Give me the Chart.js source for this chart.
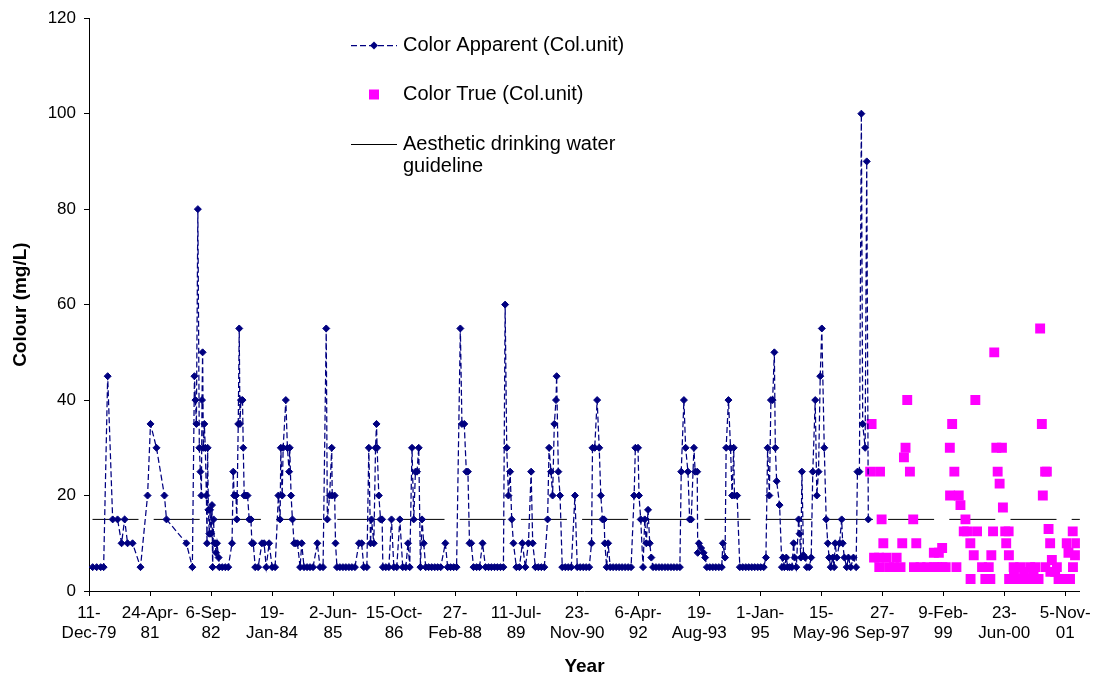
<!DOCTYPE html>
<html>
<head>
<meta charset="utf-8">
<script src="https://cdn.jsdelivr.net/npm/chart.js@4.4.0/dist/chart.umd.min.js"></script>
<style>
  html, body { margin: 0; padding: 0; background: #fff; }
</style>
</head>
<body>
<canvas id="colourChart" width="1098" height="681"></canvas>
<script>
// x values are days since 11-Dec-1979 (first axis tick)
const tickDays = [0, 500, 1000, 1500, 2000, 2500, 3000, 3500, 4000, 4500, 5000, 5500, 6000, 6500, 7000, 7500, 8000];
const tickLabels = [
    ['11-', 'Dec-79'], ['24-Apr-', '81'], ['6-Sep-', '82'], ['19-', 'Jan-84'], ['2-Jun-', '85'],
    ['15-Oct-', '86'], ['27-', 'Feb-88'], ['11-Jul-', '89'], ['23-', 'Nov-90'], ['6-Apr-', '92'],
    ['19-', 'Aug-93'], ['1-Jan-', '95'], ['15-', 'May-96'], ['27-', 'Sep-97'], ['9-Feb-', '99'],
    ['23-', 'Jun-00'], ['5-Nov-', '01']
];
const axisEndDay = 8120;

// Color Apparent (Col.unit)
const apparentDays = [
    30, 63, 96, 120, 153, 194, 234, 267, 292, 316, 357, 422, 480, 504, 553, 618, 635, 798, 847,
    864, 872, 880, 892, 904, 913, 921, 926, 931, 937, 945, 953, 962, 967, 972, 978, 986, 992, 1000, 1008, 1013, 1021, 1027, 1035, 1041, 1049, 1062, 1068, 1092, 1117, 1141,
    1172, 1182, 1190, 1204, 1211, 1223, 1231, 1237, 1245, 1258, 1264, 1272, 1286, 1299, 1313, 1327, 1335, 1346, 1362, 1386, 1417, 1435, 1452, 1476, 1501, 1525,
    1552, 1566, 1572, 1583, 1591, 1613, 1626, 1640, 1645, 1656, 1667, 1681, 1694, 1708, 1730, 1743, 1762, 1787, 1811, 1836, 1871, 1893, 1918,
    1944, 1953, 1972, 1989, 1993, 2013, 2020, 2032, 2056, 2081, 2105, 2130, 2154, 2179, 2212, 2234, 2252, 2277,
    2293, 2307, 2315, 2334, 2348, 2356, 2361, 2375, 2389, 2402, 2408, 2432, 2457, 2479, 2498, 2522, 2547, 2571, 2596, 2614, 2628, 2647, 2661, 2675, 2688, 2702, 2716, 2729, 2743,
    2759, 2783, 2808, 2833, 2857, 2882, 2920, 2939, 2963, 2988, 3012, 3043, 3056, 3075, 3092, 3105, 3118, 3132, 3151, 3176, 3200, 3225, 3249, 3274, 3298, 3323, 3347, 3372, 3396,
    3410, 3423, 3437, 3451, 3464, 3478, 3502, 3527, 3551, 3576, 3601, 3623, 3636, 3658, 3682, 3707, 3731,
    3758, 3770, 3786, 3799, 3813, 3827, 3832, 3846, 3860, 3878, 3903, 3927, 3952, 3982, 4001, 4025, 4050, 4074, 4099,
    4118, 4126, 4144, 4164, 4181, 4194, 4208, 4221, 4227, 4242, 4254, 4271, 4295, 4320, 4344, 4368, 4393, 4418, 4442,
    4467, 4477, 4499, 4507, 4521, 4540, 4554, 4567, 4581, 4595, 4608, 4622, 4646, 4671, 4695, 4720, 4744, 4769, 4793, 4818, 4842,
    4853, 4875, 4889, 4908, 4922, 4935, 4957, 4967, 4984, 4988, 4998, 5016, 5036, 5049, 5063, 5087, 5112, 5136, 5161, 5185,
    5194, 5212, 5221, 5240, 5257, 5270, 5283, 5289, 5311, 5333, 5357, 5382, 5406, 5431, 5455, 5480, 5504, 5529,
    5547, 5561, 5575, 5588, 5602, 5616, 5624, 5635, 5659, 5678, 5686, 5698, 5714, 5725, 5741, 5760, 5774, 5782, 5796, 5815, 5823, 5833, 5842, 5855, 5869, 5882, 5902, 5918,
    5931, 5951, 5964, 5978, 5992, 6005, 6025, 6041, 6054, 6065, 6078, 6095, 6106, 6114, 6128, 6150, 6168, 6176, 6190, 6209, 6223, 6242, 6264, 6286, 6297, 6313, 6329, 6340, 6360, 6373, 6386
];
const apparentValues = [
    5, 5, 5, 5, 45, 15, 15, 10, 15, 10, 10, 5, 20, 35, 30, 20, 15, 10, 5,
    45, 40, 35, 80, 30, 25, 20, 40, 50, 30, 35, 30, 20, 10, 30, 17, 12, 17, 12, 18, 5, 15, 10, 10, 8, 10, 7, 5, 5, 5, 5,
    10, 25, 20, 20, 15, 35, 55, 35, 40, 40, 30, 20, 20, 20, 15, 15, 10, 10, 5, 5, 10, 10, 5, 10, 5, 5,
    20, 15, 30, 20, 30, 40, 30, 25, 30, 20, 15, 10, 10, 10, 5, 10, 5, 5, 5, 5, 10, 5, 5,
    55, 15, 20, 30, 20, 20, 10, 5, 5, 5, 5, 5, 5, 5, 10, 10, 5, 5,
    30, 10, 15, 10, 30, 35, 30, 20, 15, 15, 5, 5, 5, 15, 5, 5, 15, 5, 5, 10, 5, 30, 15, 25, 25, 30, 5, 15, 10,
    5, 5, 5, 5, 5, 5, 10, 5, 5, 5, 5, 55, 35, 35, 25, 25, 10, 10, 5, 5, 5, 10, 5, 5, 5, 5, 5, 5, 5,
    60, 30, 20, 25, 15, 10, 5, 5, 10, 5, 10, 25, 10, 5, 5, 5, 5,
    15, 30, 25, 20, 35, 40, 45, 25, 20, 5, 5, 5, 5, 20, 5, 5, 5, 5, 5,
    10, 30, 30, 40, 30, 20, 15, 15, 10, 5, 10, 5, 5, 5, 5, 5, 5, 5, 5,
    20, 30, 30, 20, 15, 5, 15, 10, 17, 10, 7, 5, 5, 5, 5, 5, 5, 5, 5, 5, 5,
    25, 40, 30, 25, 15, 15, 30, 25, 25, 8, 10, 9, 8, 7, 5, 5, 5, 5, 5, 5,
    10, 7, 30, 40, 30, 20, 30, 20, 20, 5, 5, 5, 5, 5, 5, 5, 5, 5,
    7, 30, 20, 40, 40, 50, 30, 23, 18, 5, 7, 5, 7, 5, 5, 5, 10, 7, 5, 15, 12, 7, 25, 7.5, 7, 5, 5, 7,
    25, 40, 20, 25, 45, 55, 30, 15, 10, 7, 5, 7, 5, 10, 7, 10, 15, 10, 7, 5, 7, 5, 7, 5, 25, 25, 100, 35, 30, 90, 15
];

// Color True (Col.unit)
const trueDays = [
    6401, 6413, 6433, 6474, 6476, 6482, 6495, 6509, 6536, 6556,
    6596, 6618, 6650, 6664, 6678, 6691, 6705, 6727, 6754, 6760,
    6779, 6814, 6868, 6923, 6925, 6950, 6964, 6991, 6993, 7020, 7054, 7056,
    7073, 7091, 7108, 7127, 7141, 7168, 7182, 7195, 7222, 7224,
    7250, 7263, 7277, 7318, 7345, 7373, 7386, 7394, 7408, 7418,
    7435, 7446, 7462, 7481, 7489, 7508, 7516, 7536, 7538, 7540,
    7577, 7580, 7590, 7631, 7659, 7662, 7712, 7726, 7740, 7753,
    7781, 7794, 7808, 7816, 7835, 7837, 7849, 7863, 7876, 7878,
    7890, 7917, 7931, 7945, 7985, 8012, 8026, 8039, 8061, 8063,
    8080, 8094
];
const trueValues = [
    25, 35, 7, 7, 5, 25, 15, 10, 7, 5,
    5, 7, 5, 10, 28, 30, 40, 25, 15, 5,
    10, 5, 5, 8, 5, 5, 8, 9, 5, 5, 30, 20,
    35, 25, 5, 20, 18, 12.5, 15, 12.5, 10, 2.5,
    7.5, 40, 12.5, 5, 2.5, 5, 2.5, 7.5, 12.5, 50,
    30, 25, 22.5, 30, 17.5, 12.5, 10, 12.5, 7.5, 2.5,
    5, 4, 2.5, 5, 2.5, 4, 5, 2.5, 3.5, 5,
    2.5, 55, 35, 20, 25, 5, 25, 13, 10, 4,
    6.5, 4, 5, 2.5, 2.5, 10, 8, 2.5, 12.5, 5,
    7.5, 10
];

// Aesthetic drinking water guideline
const guidelineValue = 15;

const FONT = '"Liberation Sans", Arial, Helvetica, sans-serif';
Chart.defaults.font.family = FONT;
Chart.defaults.color = '#000';

const toPoints = (xs, ys) => xs.map((x, i) => ({ x: x, y: ys[i] }));

// legend drawn inside the plot, like the original
const insideLegend = {
    id: 'insideLegend',
    afterDraw(chart) {
        const c = chart.ctx;
        const ds = chart.data.datasets;
        const lineX0 = 351, lineX1 = 397, markX = 374, textX = 403;
        const rows = [45.5, 94.5, 144.5];
        c.save();
        c.font = '20px ' + FONT;
        c.textBaseline = 'middle';
        c.textAlign = 'left';

        // apparent: dashed line + diamond
        c.strokeStyle = ds[0].borderColor;
        c.lineWidth = ds[0].borderWidth;
        c.setLineDash(ds[0].borderDash);
        c.beginPath();
        c.moveTo(lineX0, rows[0]);
        c.lineTo(lineX1, rows[0]);
        c.stroke();
        c.setLineDash([]);
        c.fillStyle = ds[0].pointBackgroundColor;
        c.beginPath();
        c.moveTo(markX - 4, rows[0]);
        c.lineTo(markX, rows[0] - 4);
        c.lineTo(markX + 4, rows[0]);
        c.lineTo(markX, rows[0] + 4);
        c.closePath();
        c.fill();

        // true: square
        c.fillStyle = ds[1].pointBackgroundColor;
        c.fillRect(markX - 5, rows[1] - 5, 10, 10);

        // guideline: solid line
        c.strokeStyle = '#000';
        c.lineWidth = 1;
        c.beginPath();
        c.moveTo(lineX0, rows[2]);
        c.lineTo(lineX1, rows[2]);
        c.stroke();

        c.fillStyle = '#000';
        ds.forEach((d, i) => {
            // simple word wrap at 230px
            const words = d.label.split(' ');
            const lines = [];
            let cur = '';
            words.forEach(w => {
                const test = cur ? cur + ' ' + w : w;
                if (c.measureText(test).width > 230 && cur) {
                    lines.push(cur);
                    cur = w;
                } else {
                    cur = test;
                }
            });
            lines.push(cur);
            lines.forEach((ln, j) => c.fillText(ln, textX, rows[i] + j * 22));
        });
        c.restore();
    }
};

const axisGrid = {
    display: true,
    drawOnChartArea: false,
    drawTicks: true,
    tickLength: 5,
    color: '#000'
};

new Chart(document.getElementById('colourChart'), {
    type: 'scatter',
    data: {
        datasets: [
            {
                label: 'Color Apparent (Col.unit)',
                data: toPoints(apparentDays, apparentValues),
                showLine: true,
                borderColor: '#000080',
                borderWidth: 1.25,
                borderDash: [6, 3],
                pointStyle: 'rectRot',
                pointRadius: 3.5,
                pointBackgroundColor: '#000080',
                pointBorderColor: '#000080',
                pointBorderWidth: 1
            },
            {
                label: 'Color True (Col.unit)',
                data: toPoints(trueDays, trueValues),
                showLine: false,
                pointStyle: 'rect',
                pointRadius: 7,
                pointBackgroundColor: '#FF00FF',
                pointBorderColor: '#FF00FF',
                pointBorderWidth: 0
            },
            {
                label: 'Aesthetic drinking water guideline',
                data: [{ x: 0, y: guidelineValue }, { x: axisEndDay, y: guidelineValue }],
                showLine: true,
                borderColor: '#000',
                borderWidth: 1,
                borderDash: [46, 15.2],
                borderDashOffset: 57.7,
                pointRadius: 0
            }
        ]
    },
    options: {
        responsive: false,
        animation: false,
        devicePixelRatio: 1,
        layout: { padding: { top: 16, right: 15, bottom: 0, left: 0 } },
        plugins: {
            legend: { display: false },
            tooltip: { enabled: false }
        },
        scales: {
            x: {
                type: 'linear',
                min: 0,
                max: axisEndDay,
                afterBuildTicks: axis => { axis.ticks = tickDays.map(v => ({ value: v })); },
                afterFit: axis => { axis.height = 90; },
                ticks: {
                    autoSkip: false,
                    maxRotation: 0,
                    padding: 7,
                    font: { size: 17 },
                    callback: (v, i) => tickLabels[i]
                },
                grid: axisGrid,
                border: { color: '#000', width: 1 },
                title: {
                    display: true,
                    text: 'Year',
                    font: { size: 19, weight: 'bold' },
                    padding: { top: 0, bottom: 3 }
                }
            },
            y: {
                min: 0,
                max: 120,
                afterFit: axis => { axis.width = 89; },
                ticks: { stepSize: 20, padding: 8, font: { size: 17 } },
                grid: axisGrid,
                border: { color: '#000', width: 1 },
                title: {
                    display: true,
                    text: 'Colour (mg/L)',
                    font: { size: 19, weight: 'bold' },
                    padding: { top: 9, bottom: 0 }
                }
            }
        }
    },
    plugins: [insideLegend]
});
</script>
</body>
</html>
